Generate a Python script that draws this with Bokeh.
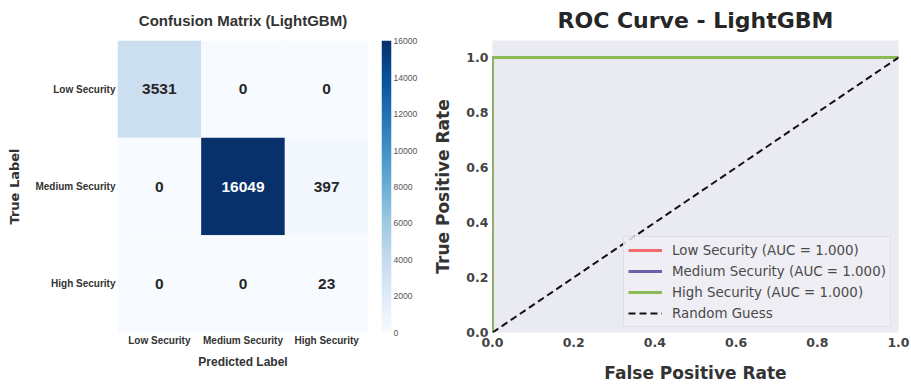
import numpy as np
from bokeh.plotting import figure
from bokeh.models import (ColumnDataSource, LinearColorMapper, FixedTicker,
                          Legend, LegendItem, FactorRange, Range1d, PrintfTickFormatter)
from bokeh.palettes import Blues256
from bokeh.layouts import row
from bokeh.transform import transform
from bokeh.core.properties import value
from bokeh.embed import file_html
from bokeh.resources import INLINE

# ---------------- data ----------------
classes = ["Low Security", "Medium Security", "High Security"]
cm_low = [3531, 0, 0]
cm_medium = [0, 16049, 397]
cm_high = [0, 0, 23]
cbar_ticks = [0, 2000, 4000, 6000, 8000, 10000, 12000, 14000, 16000]

roc_fpr_low = [0.0, 0.0, 1.0]
roc_tpr_low = [0.0, 1.0, 1.0]
roc_fpr_medium = [0.0, 0.0, 1.0]
roc_tpr_medium = [0.0, 1.0, 1.0]
roc_fpr_high = [0.0, 0.0, 1.0]
roc_tpr_high = [0.0, 1.0, 1.0]
auc_values = [1.000, 1.000, 1.000]
random_fpr = [0.0, 1.0]
random_tpr = [0.0, 1.0]
roc_ticks = [0.0, 0.2, 0.4, 0.6, 0.8, 1.0]

LIB = "Liberation Sans"
DJ = "DejaVu Sans"
H = 385
TOP, BOTTOM = 40, 53

# ---------------- confusion matrix ----------------
cm_rows = [cm_low, cm_medium, cm_high]
vmax = max(max(r) for r in cm_rows)
xs, ys, vals, txt, tcol = [], [], [], [], []
for true_lbl, r in zip(classes, cm_rows):
    for pred_lbl, v in zip(classes, r):
        xs.append(pred_lbl)
        ys.append(true_lbl)
        vals.append(v)
        txt.append(str(v))
        tcol.append("#ffffff" if v > vmax / 2 else "#262626")
src = ColumnDataSource(dict(x=xs, y=ys, v=vals, t=txt, c=tcol))

mapper = LinearColorMapper(palette=list(Blues256[::-1]), low=0, high=vmax)

p1 = figure(width=368, height=H, x_range=FactorRange(*classes),
            y_range=FactorRange(*classes[::-1]), output_backend="svg",
            toolbar_location=None, min_border_left=117, min_border_right=0,
            min_border_top=TOP, min_border_bottom=BOTTOM)
p1.rect(x="x", y="y", width=1, height=1, source=src,
        fill_color=transform("v", mapper), line_color=None)
p1.text(x="x", y="y", text="t", source=src, text_color="c",
        text_align="center", text_baseline="middle",
        text_font=value(LIB), text_font_style="bold", text_font_size="15.5px")

p1.title.text = "Confusion Matrix (LightGBM)"
p1.title.align = "center"
p1.title.vertical_align = "top"
p1.title.text_font = LIB
p1.title.text_font_size = "15px"
p1.title.text_font_style = "bold"
p1.title.text_color = "#333333"
p1.title.standoff = 19

for ax in (p1.xaxis[0], p1.yaxis[0]):
    ax.axis_line_color = None
    ax.major_tick_line_color = None
    ax.minor_tick_line_color = None
    ax.major_tick_out = 0
    ax.major_tick_in = 0
    ax.major_label_text_font = LIB
    ax.major_label_text_font_style = "bold"
    ax.major_label_text_font_size = "10px"
    ax.major_label_text_color = "#333333"
    ax.axis_label_text_font_style = "bold"
    ax.axis_label_text_color = "#333333"
p1.xaxis.axis_label = "Predicted Label"
p1.xaxis.axis_label_text_font = LIB
p1.xaxis.axis_label_text_font_size = "12px"
p1.xaxis.major_label_standoff = 2
p1.xaxis.axis_label_standoff = 6
p1.yaxis.axis_label = "True Label"
p1.yaxis.axis_label_text_font = DJ
p1.yaxis.axis_label_text_font_size = "13px"
p1.yaxis.major_label_standoff = 2
p1.yaxis.axis_label_standoff = 10
p1.grid.visible = False
p1.outline_line_color = None

# ---------------- colour bar (own small figure) ----------------
pcb = figure(width=52, height=H, x_range=Range1d(0, 1), y_range=Range1d(0, vmax),
             output_backend="svg", toolbar_location=None,
             x_axis_location=None, y_axis_location="right",
             min_border_left=13, min_border_right=27,
             min_border_top=TOP, min_border_bottom=BOTTOM)
grad = np.linspace(0, vmax, 256).reshape(-1, 1)
pcb.image(image=[grad], x=0, y=0, dw=1, dh=vmax, color_mapper=mapper)
cax = pcb.yaxis[0]
cax.ticker = FixedTicker(ticks=cbar_ticks)
cax.axis_line_color = None
cax.major_tick_line_color = None
cax.minor_tick_line_color = None
cax.major_tick_out = 0
cax.major_tick_in = 0
cax.major_label_standoff = 2
cax.major_label_text_font = LIB
cax.major_label_text_font_size = "8.6px"
cax.major_label_text_color = "#555555"
pcb.grid.visible = False
pcb.outline_line_color = None

# ---------------- ROC ----------------
p2 = figure(width=491, height=H, x_range=Range1d(0, 1), y_range=Range1d(0, 1.062),
            output_backend="svg", toolbar_location=None,
            min_border_left=72, min_border_right=13, min_border_top=TOP,
            min_border_bottom=BOTTOM, background_fill_color="#EAEAF2")
r_low = p2.line(roc_fpr_low, roc_tpr_low, line_color="#F26B6B", line_width=3)
r_med = p2.line(roc_fpr_medium, roc_tpr_medium, line_color="#6E5FA8", line_width=3)
r_high = p2.line(roc_fpr_high, roc_tpr_high, line_color="#8CBA56", line_width=3)
r_rand = p2.line(random_fpr, random_tpr, line_color="#111111", line_width=2,
                 line_dash="7 4")

p2.title.text = "ROC Curve - LightGBM"
p2.title.align = "center"
p2.title.vertical_align = "top"
p2.title.text_font = DJ
p2.title.text_font_size = "22px"
p2.title.text_font_style = "bold"
p2.title.text_color = "#262626"
p2.title.standoff = 11

for ax in (p2.xaxis[0], p2.yaxis[0]):
    ax.ticker = FixedTicker(ticks=roc_ticks)
    ax.formatter = PrintfTickFormatter(format="%.1f")
    ax.axis_line_color = None
    ax.major_tick_line_color = None
    ax.minor_tick_line_color = None
    ax.major_tick_out = 0
    ax.major_tick_in = 0
    ax.major_label_text_font = DJ
    ax.major_label_text_font_style = "bold"
    ax.major_label_text_font_size = "12.5px"
    ax.major_label_text_color = "#444444"
    ax.axis_label_text_font = DJ
    ax.axis_label_text_font_style = "bold"
    ax.axis_label_text_font_size = "17px"
    ax.axis_label_text_color = "#333333"
p2.xaxis.axis_label = "False Positive Rate"
p2.yaxis.axis_label = "True Positive Rate"
p2.xaxis.major_label_standoff = 5
p2.yaxis.major_label_standoff = 4
p2.xaxis.axis_label_standoff = 13
p2.yaxis.axis_label_standoff = 10
p2.grid.visible = False
p2.outline_line_color = None

legend = Legend(items=[
    LegendItem(label=f"{classes[0]} (AUC = {auc_values[0]:.3f})", renderers=[r_low]),
    LegendItem(label=f"{classes[1]} (AUC = {auc_values[1]:.3f})", renderers=[r_med]),
    LegendItem(label=f"{classes[2]} (AUC = {auc_values[2]:.3f})", renderers=[r_high]),
    LegendItem(label="Random Guess", renderers=[r_rand]),
], location=(131, 5), padding=4, spacing=3, glyph_height=18, label_height=18,
    glyph_width=34, label_standoff=10, label_text_font=DJ,
    label_text_font_size="13.4px", label_text_color="#4a4a4a",
    background_fill_color="#EEEEF4", background_fill_alpha=0.85,
    border_line_color="#CFCFD8", border_line_width=1)
p2.add_layout(legend, "center")

layout = row(p1, pcb, p2)
open("out.html", "w").write(file_html(layout, INLINE))
